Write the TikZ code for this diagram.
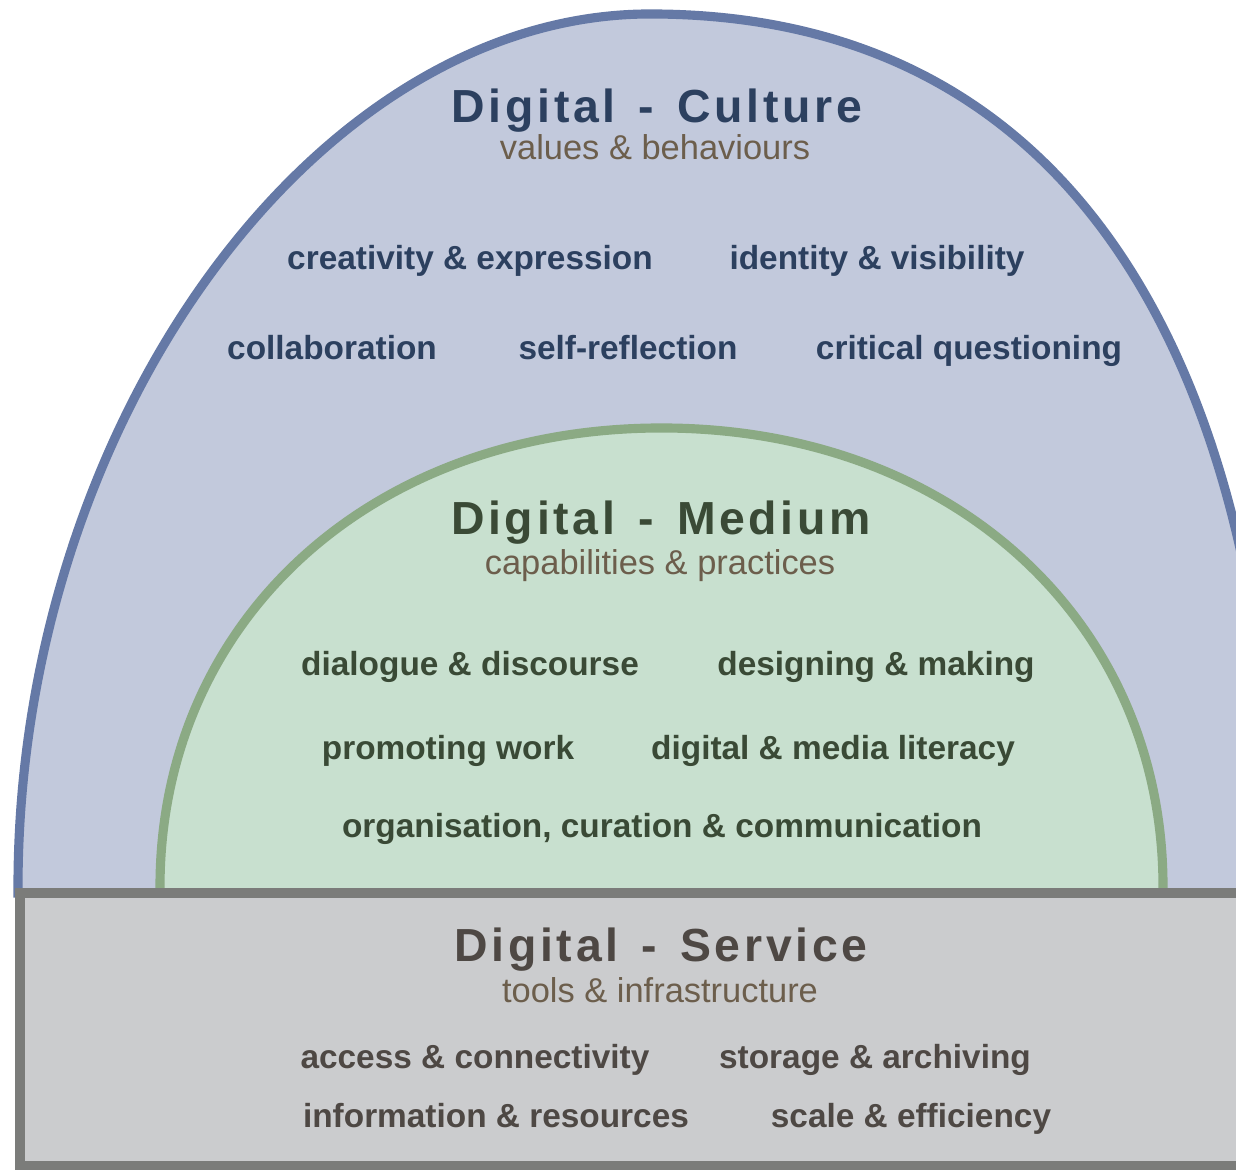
\documentclass[tikz,border=0pt]{standalone}
\usepackage{fontspec}
\setmainfont{Liberation Sans}
\newfontfamily\titlefont[LetterSpace=8]{Liberation Sans}
\usepackage{tikz}

\definecolor{cultfill}{RGB}{194,201,220}
\definecolor{cultline}{RGB}{101,121,166}
\definecolor{culttext}{RGB}{44,64,95}
\definecolor{medfill}{RGB}{200,224,207}
\definecolor{medline}{RGB}{139,170,132}
\definecolor{medtext}{RGB}{58,74,54}
\definecolor{servfill}{RGB}{203,204,206}
\definecolor{servline}{RGB}{123,124,122}
\definecolor{servtext}{RGB}{78,72,68}
\definecolor{subtext}{RGB}{108,94,76}

\begin{document}
\begin{tikzpicture}[ttl/.style={anchor=base, font=\titlefont\bfseries\fontsize{13.2}{15}\selectfont},
  sub/.style={anchor=base, text=subtext, font=\fontsize{9.8}{12}\selectfont},
  itm/.style={anchor=base, font=\bfseries\fontsize{9.5}{12}\selectfont}]
  \useasboundingbox (0,0) rectangle (12.36,11.70);
  \clip (0,0) rectangle (12.36,11.70);
  % layers
  \draw[line width=2.6pt, draw=cultline, fill=cultfill] (0.18,2.77) -- (0.18,2.83) .. controls (0.18,7.46) and (3.15,11.56) .. (6.50,11.56) .. controls (11.50,11.56) and (12.75,6.76) .. (12.75,2.83) -- (12.75,2.77) -- cycle;
  \draw[line width=2.6pt, draw=medline, fill=medfill] (1.60,2.77) -- (1.60,2.83) .. controls (1.60,5.49) and (3.706,7.42) .. (6.615,7.42) .. controls (9.524,7.42) and (11.63,5.49) .. (11.63,2.83) -- (11.63,2.77) -- cycle;
  \draw[line width=3pt, draw=servline, fill=servfill] (0.20,0.04) rectangle (12.70,2.77);
  % culture
  \node (c0) [ttl, text=culttext] at (6.57,10.47) {Digital\enspace-\enspace Culture};
  \node (c1) [sub] at (6.55,10.10) {values \& behaviours};
  \node (c2) [itm, text=culttext] at (4.70,9.00) {creativity \& expression};
  \node (c3) [itm, text=culttext] at (8.77,9.00) {identity \& visibility};
  \node (c4) [itm, text=culttext] at (3.32,8.10) {collaboration};
  \node (c5) [itm, text=culttext] at (6.28,8.10) {self-reflection};
  \node (c6) [itm, text=culttext] at (9.69,8.10) {critical questioning};
  % medium
  \node (m0) [ttl, text=medtext] at (6.61,6.35) {Digital\enspace-\enspace Medium};
  \node (m1) [sub] at (6.60,5.95) {capabilities \& practices};
  \node (m2) [itm, text=medtext] at (4.70,4.94) {dialogue \& discourse};
  \node (m3) [itm, text=medtext] at (8.76,4.94) {designing \& making};
  \node (m4) [itm, text=medtext] at (4.48,4.10) {promoting work};
  \node (m5) [itm, text=medtext] at (8.33,4.10) {digital \& media literacy};
  \node (m6) [itm, text=medtext] at (6.62,3.32) {organisation, curation \& communication};
  % service
  \node (s0) [ttl, text=servtext] at (6.61,2.08) {Digital\enspace-\enspace Service};
  \node (s1) [sub] at (6.60,1.67) {tools \& infrastructure};
  \node (s2) [itm, text=servtext] at (4.75,1.01) {access \& connectivity};
  \node (s3) [itm, text=servtext] at (8.75,1.01) {storage \& archiving};
  \node (s4) [itm, text=servtext] at (4.96,0.42) {information \& resources};
  \node (s5) [itm, text=servtext] at (9.11,0.42) {scale \& efficiency};
\end{tikzpicture}
\end{document}
